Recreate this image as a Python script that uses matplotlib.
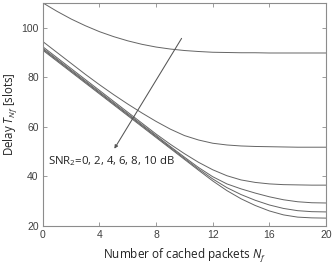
import numpy as np
import matplotlib
matplotlib.use('Agg')
import matplotlib.pyplot as plt

# Число кэшированных пакетов и задержка для каждого SNR_2
n_f = list(range(21))
snr_labels = ['0', '2', '4', '6', '8', '10']

delay_snr0 = [110.0, 106.6, 103.5, 100.8, 98.4, 96.4, 94.7, 93.3, 92.2, 91.4, 90.8,
              90.4, 90.1, 90.0, 89.9, 89.9, 89.8, 89.8, 89.8, 89.8, 89.8]
delay_snr2 = [94.4, 90.0, 85.6, 81.2, 77.0, 73.0, 69.2, 65.6, 62.2, 59.1, 56.5,
              54.7, 53.4, 52.7, 52.3, 52.1, 52.0, 51.9, 51.8, 51.8, 51.8]
delay_snr4 = [92.3, 87.9, 83.5, 79.1, 74.7, 70.3, 65.9, 61.5, 57.1, 53.0, 49.2,
              45.7, 42.7, 40.3, 38.6, 37.6, 37.0, 36.7, 36.6, 36.5, 36.5]
delay_snr6 = [91.7, 87.3, 82.9, 78.5, 74.1, 69.7, 65.3, 60.9, 56.5, 52.1, 47.8,
              43.6, 39.9, 37.0, 35.0, 33.3, 31.8, 30.6, 29.8, 29.4, 29.3]
delay_snr8 = [91.3, 86.9, 82.5, 78.1, 73.7, 69.3, 64.9, 60.5, 56.1, 51.7, 47.3,
              43.0, 39.0, 35.5, 32.7, 30.4, 28.5, 27.1, 26.2, 25.8, 25.7]
delay_snr10 = [90.9, 86.5, 82.1, 77.7, 73.3, 68.9, 64.5, 60.1, 55.7, 51.3, 46.9,
               42.5, 38.2, 34.3, 31.0, 28.3, 26.1, 24.5, 23.6, 23.3, 23.2]

curves = [delay_snr0, delay_snr2, delay_snr4, delay_snr6, delay_snr8, delay_snr10]

plt.rcParams['mathtext.fontset'] = 'custom'
plt.rcParams['mathtext.rm'] = 'Open Sans'
plt.rcParams['mathtext.it'] = 'Open Sans:italic'

fig = plt.figure(figsize=(3.35, 2.65), dpi=100)
ax = fig.add_axes([0.128, 0.147, 0.845, 0.842])

for d in curves:
    ax.plot(n_f, d, color='#646464', linewidth=0.7)

ax.set_xlim(0, 20)
ax.set_ylim(20, 110)
ax.set_xticks([0, 4, 8, 12, 16, 20])
ax.set_yticks([20, 40, 60, 80, 100])

frame = '#8c8c8c'
for s in ax.spines.values():
    s.set_color(frame)
    s.set_linewidth(0.8)
ax.tick_params(direction='in', top=True, right=True, length=3, width=0.6,
               color=frame, labelsize=7.5, labelcolor='#404040', pad=3)
for lab in ax.get_xticklabels() + ax.get_yticklabels():
    lab.set_family('Liberation Sans')

# Стрелка и подпись
ax.annotate('', xy=(5.05, 51.2), xytext=(9.8, 95.7),
            arrowprops=dict(arrowstyle='-|>', color='#555555', lw=0.75,
                            mutation_scale=5, shrinkA=0, shrinkB=0))
ax.text(0.35, 46.3, 'SNR$_2$=' + ', '.join(snr_labels) + ' dB',
        fontsize=8.2, family='Open Sans', color='#222222', va='center', ha='left')

ax.set_xlabel('Number of cached packets $N_f$', fontsize=8.5, family='Open Sans',
              color='#222222')
ax.set_ylabel('Delay $T_{Nf}$ [slots]', fontsize=8.3, family='Open Sans',
              color='#222222')
ax.xaxis.set_label_coords(0.5, -0.092)
ax.yaxis.set_label_coords(-0.08, 0.5)

fig.savefig('out.png', dpi=100)
